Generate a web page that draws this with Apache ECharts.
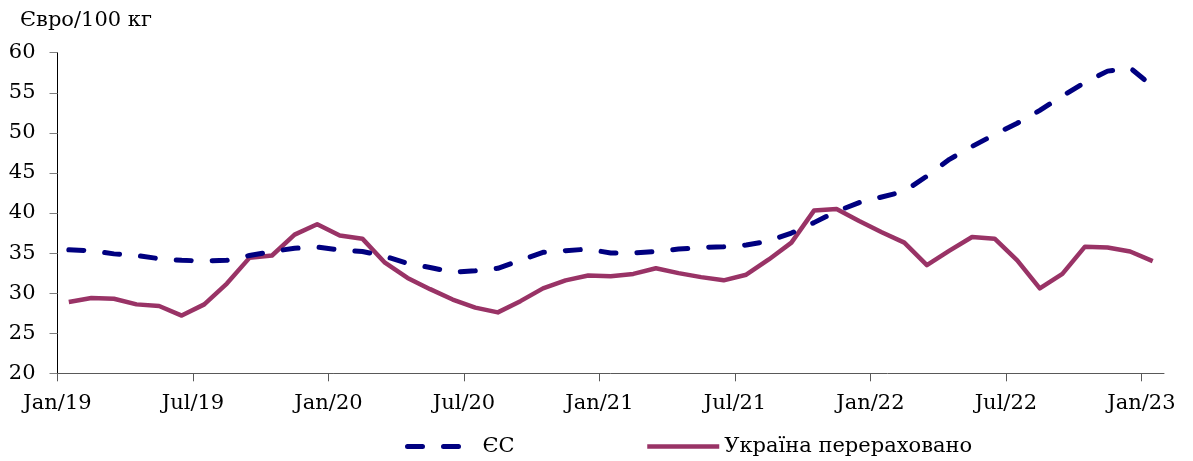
<!DOCTYPE html>
<html>
<head>
<meta charset="utf-8">
<script src="https://cdn.jsdelivr.net/npm/echarts@6/dist/echarts.min.js"></script>
<style>
  html, body { margin: 0; padding: 0; background: #fff; }
  #chart { width: 1193px; height: 461px; }
</style>
</head>
<body>
<div id="chart"></div>
<script>
// monthly points, Jan/19 .. Jan/23
const monthNames = ['Jan', 'Feb', 'Mar', 'Apr', 'May', 'Jun', 'Jul', 'Aug', 'Sep', 'Oct', 'Nov', 'Dec'];
const categories = [];
for (let y = 19; y <= 23; y++) {
  monthNames.forEach(m => categories.push(m + '/' + y));
}
categories.length = 49;

const tickLabels = ['Jan/19', 'Jul/19', 'Jan/20', 'Jul/20', 'Jan/21', 'Jul/21', 'Jan/22', 'Jul/22', 'Jan/23'];
const yTicks = [20, 25, 30, 35, 40, 45, 50, 55, 60];

const euName = 'ЄС';
const uaName = 'Україна перераховано';

const euValues = [
  35.4, 35.3, 34.9, 34.7, 34.3, 34.1, 34.0, 34.1, 34.7, 35.2,
  35.6, 35.75, 35.4, 35.2, 34.6, 33.7, 33.2, 32.6, 32.8, 33.1,
  34.1, 35.1, 35.3, 35.5, 35.0, 35.0, 35.2, 35.5, 35.7, 35.8,
  36.0, 36.5, 37.5, 38.8, 40.2, 41.3, 42.0, 42.7, 44.6, 46.7,
  48.3, 49.8, 51.2, 52.8, 54.6, 56.3, 57.7, 58.1, 55.8
];

const uaValues = [
  28.9, 29.4, 29.3, 28.6, 28.4, 27.2, 28.6, 31.2, 34.4, 34.7,
  37.3, 38.6, 37.2, 36.8, 33.8, 31.9, 30.5, 29.2, 28.2, 27.6,
  29.0, 30.6, 31.6, 32.2, 32.1, 32.4, 33.1, 32.5, 32.0, 31.6,
  32.3, 34.2, 36.3, 40.3, 40.5, 39.0, 37.6, 36.3, 33.5, 35.3,
  37.0, 36.8, 34.1, 30.6, 32.4, 35.8, 35.7, 35.2, 34.0
];

const FONT = 'DejaVu Serif';
const EU_COLOR = '#000080';
const UA_COLOR = '#993366';
const tickPos = tickLabels.map((_, i) => i * 6);

const chart = echarts.init(document.getElementById('chart'), null, { renderer: 'canvas' });

const legendText = { fontFamily: FONT, fontSize: 21, color: '#000' };

chart.setOption({
  animation: false,
  backgroundColor: '#fff',
  title: {
    text: 'Євро/100 кг',
    left: 20,
    top: 10,
    padding: 0,
    textStyle: { fontFamily: FONT, fontSize: 21, fontWeight: 'normal', color: '#000' }
  },
  legend: [
    {
      data: [euName],
      left: 405,
      top: 436,
      padding: 0,
      itemWidth: 58,
      itemHeight: 14,
      itemStyle: { opacity: 0, borderWidth: 0 },
      lineStyle: { width: 5 },
      formatter: '{gap|}{name}',
      textStyle: Object.assign({}, legendText, { rich: { gap: { width: 12 } } })
    },
    {
      data: [uaName],
      left: 645,
      top: 436,
      padding: 0,
      itemWidth: 72,
      itemHeight: 14,
      itemStyle: { opacity: 0, borderWidth: 0 },
      lineStyle: { width: 4.5 },
      textStyle: legendText
    }
  ],
  grid: { left: 57.5, right: 29, top: 52.7, bottom: 87.7, containLabel: false },
  xAxis: [
    {
      type: 'category',
      data: categories,
      boundaryGap: true,
      show: false
    },
    {
      type: 'value',
      position: 'bottom',
      min: 0,
      max: categories.length,
      axisLine: { show: true, lineStyle: { color: '#595959', width: 1 } },
      axisTick: { show: true, length: 8, customValues: tickPos, lineStyle: { color: '#595959' } },
      axisLabel: {
        customValues: tickPos,
        margin: 20,
        fontFamily: FONT,
        fontSize: 21,
        color: '#000',
        formatter: v => tickLabels[Math.round(v / 6)] || ''
      },
      splitLine: { show: false }
    }
  ],
  yAxis: {
    type: 'value',
    min: yTicks[0],
    max: yTicks[yTicks.length - 1],
    interval: 5,
    axisLine: { show: true, lineStyle: { color: '#000', width: 1 } },
    axisTick: { show: true, length: 8, lineStyle: { color: '#808080' } },
    axisLabel: { margin: 22, fontFamily: FONT, fontSize: 21, color: '#000' },
    splitLine: { show: false }
  },
  series: [
    {
      name: euName,
      type: 'line',
      xAxisIndex: 0,
      data: euValues,
      symbol: 'none',
      color: EU_COLOR,
      lineStyle: { color: EU_COLOR, width: 5, type: [15, 21], cap: 'round', join: 'round' },
      z: 3
    },
    {
      name: uaName,
      type: 'line',
      xAxisIndex: 0,
      data: uaValues,
      symbol: 'none',
      color: UA_COLOR,
      lineStyle: { color: UA_COLOR, width: 4.5, join: 'round' },
      z: 2
    }
  ]
});
</script>
</body>
</html>
